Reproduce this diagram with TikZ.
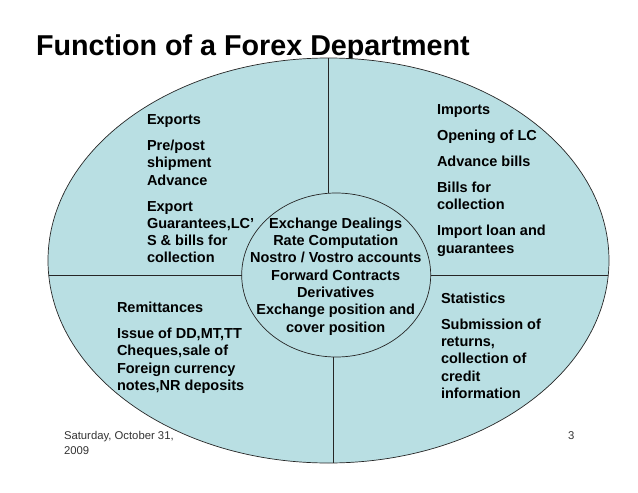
\documentclass[tikz,border=0pt]{standalone}
\usepackage{fontspec}
\setmainfont{Liberation Sans}
\usepackage{tikz}
\usetikzlibrary{shapes.geometric}
\definecolor{forexblue}{RGB}{185,223,227}
\newcommand{\paragap}{\\[8.7pt]}

\begin{document}
\begin{tikzpicture}[x=1pt, y=-1pt,
	 every node/.style={inner sep=0pt, outer sep=0pt},
	 bodytext/.style={align=left, anchor=north west, font=\fontsize{14.5}{17.3}\selectfont\bfseries},
	 centertext/.style={align=center, font=\fontsize{14.5}{17.3}\selectfont\bfseries},
	 foottext/.style={align=left, anchor=north west, font=\fontsize{11.3}{14.5}\selectfont, text=black!80},
	 region/.style={draw=black!85, fill=forexblue, line width=0.7pt},
	 divider/.style={draw=black!85, line width=0.7pt}]
	    \useasboundingbox (0,0) rectangle (638,493);
	    \node at (36,55) [anchor=base west, font=\fontsize{28.7}{32}\selectfont\bfseries] (title) {Function of a Forex Department};
	    \node at (328.5,260.5) [region, ellipse, minimum width=561, minimum height=405] (outer) {};
	    \node at (336.2,275) [region, ellipse, minimum width=189, minimum height=164] (hub) {};
	    \coordinate (lineW) at (48.7,275);
	    \coordinate (lineE) at (608.3,275);
	    \coordinate (hubTop) at (328.5,193.3);
	    \coordinate (hubBottom) at (333.3,356.9);
	    \coordinate (outerBottom) at (333.3,463);
	    \draw[divider] (lineW) -- (hub.west);
	    \draw[divider] (hub.east) -- (lineE);
	    \draw[divider] (outer.north) -- (hubTop);
	    \draw[divider] (hubBottom) -- (outerBottom);
	    \node at (335.7,276.5) [centertext] (dealings) {Exchange Dealings\\Rate Computation\\Nostro / Vostro accounts\\Forward Contracts\\Derivatives\\Exchange position and\\cover position};
	    \node at (147,114.5) [bodytext] (exports) {Exports\paragap Pre/post\\shipment\\Advance\paragap Export\\Guarantees,LC’\\S \& bills for\\collection};
	    \node at (437,104.5) [bodytext] (imports) {Imports\paragap Opening of LC\paragap Advance bills\paragap Bills for\\collection\paragap Import loan and\\guarantees};
	    \node at (117,302) [bodytext] (remit) {Remittances\paragap Issue of DD,MT,TT\\Cheques,sale of\\Foreign currency\\notes,NR deposits};
	    \node at (441,292.7) [bodytext] (stats) {Statistics\paragap Submission of\\returns,\\collection of\\credit\\information};
	    \node at (64,431.5) [foottext] (date) {Saturday, October 31,\\2009};
	    \node at (568,431.5) [foottext] (pageno) {3};
	 \end{tikzpicture}
\end{document}
